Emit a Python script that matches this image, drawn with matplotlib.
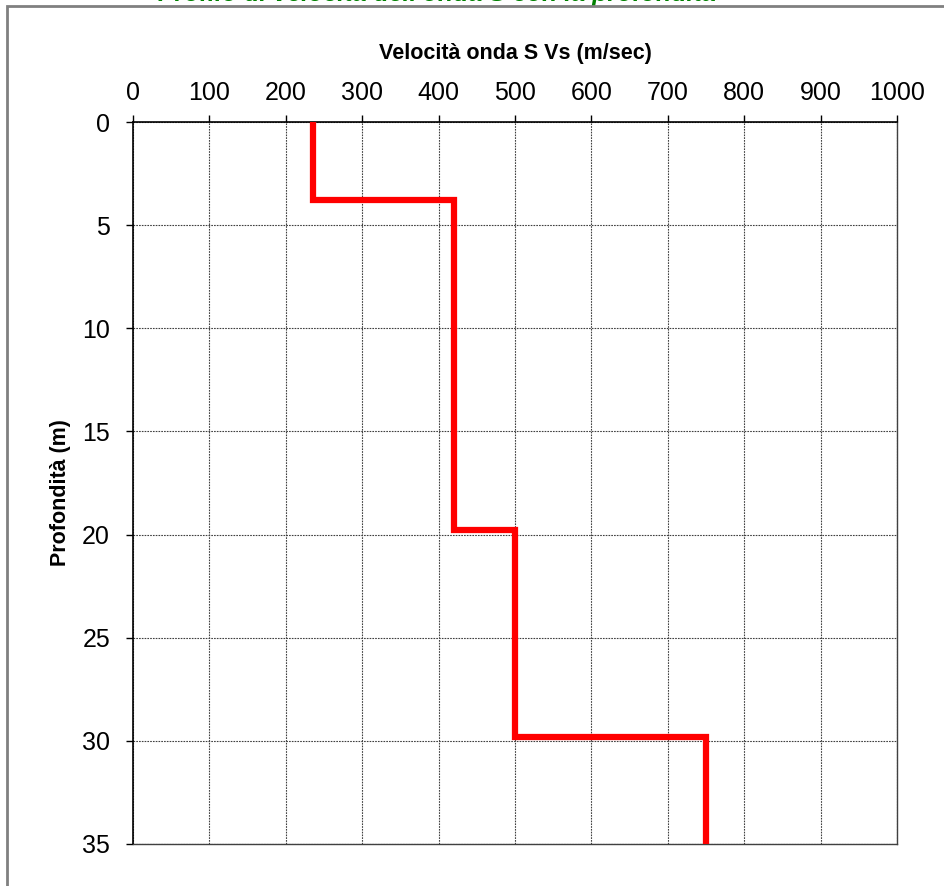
import matplotlib
matplotlib.use('Agg')
import matplotlib.pyplot as plt
from matplotlib.patches import Rectangle

# Shear wave velocity profile (step layers)
layer_top = [0.0, 3.8, 19.8, 29.8]      # m
layer_bottom = [3.8, 19.8, 29.8, 35.0]  # m
vs = [235, 420, 500, 750]               # m/sec

x_ticks = [0, 100, 200, 300, 400, 500, 600, 700, 800, 900, 1000]
y_ticks = [0, 5, 10, 15, 20, 25, 30, 35]

title = "Profilo di velocità dell'onda S con la profondità"
x_label = "Velocità onda S Vs (m/sec)"
y_label = "Profondità (m)"

plt.rcParams['font.family'] = ['Liberation Sans', 'DejaVu Sans']

W, H = 945, 886
fig = plt.figure(figsize=(W / 100, H / 100), dpi=100)

# title, mostly cut off at the top of the image
fig.text(437 / W, 1 - 1.5 / H, title, ha='center', va='baseline',
         fontsize=18, fontweight='bold', fontstyle='italic', color='#008000')

# outer chart frame (gray), extends beyond the picture on right/bottom
fig.patches.append(Rectangle((7 / W, -0.05), 1.2, 1 - 6 / H + 0.05,
                             transform=fig.transFigure, fill=False,
                             edgecolor='#808080', linewidth=2, zorder=5))

ax = fig.add_axes([133 / W, 1 - 844 / H, 764 / W, 722 / H])

# build step path
xs, ys = [], []
for top, bot, v in zip(layer_top, layer_bottom, vs):
    xs += [v, v]
    ys += [top, bot]
ax.plot(xs, ys, color='#ff0000', linewidth=4.5, solid_capstyle='butt',
        solid_joinstyle='miter', zorder=3)

ax.set_xlim(0, 1000)
ax.set_ylim(35, 0)
ax.set_xticks(x_ticks)
ax.set_yticks(y_ticks)
ax.xaxis.tick_top()
ax.xaxis.set_label_position('top')
ax.tick_params(axis='both', labelsize=18, length=5, width=1, color='black',
               direction='out')
ax.tick_params(axis='x', pad=7)
ax.tick_params(axis='y', pad=11.5)
ax.set_xlabel(x_label, fontsize=15.5, fontweight='bold')
ax.set_ylabel(y_label, fontsize=15.5, fontweight='bold')
ax.xaxis.set_label_coords(0.5, (844 - 59) / 722)
ax.yaxis.set_label_coords((71 - 133) / 764, (844 - 493) / 722)

ax.grid(True, color='#404040', linestyle=(0, (1.5, 1)), linewidth=0.8)
for side in ['left', 'top']:
    ax.spines[side].set_color('black')
    ax.spines[side].set_linewidth(1.2)
for side in ['right', 'bottom']:
    ax.spines[side].set_color('#404040')
    ax.spines[side].set_linewidth(1.0)

fig.savefig('out.png', dpi=100)
